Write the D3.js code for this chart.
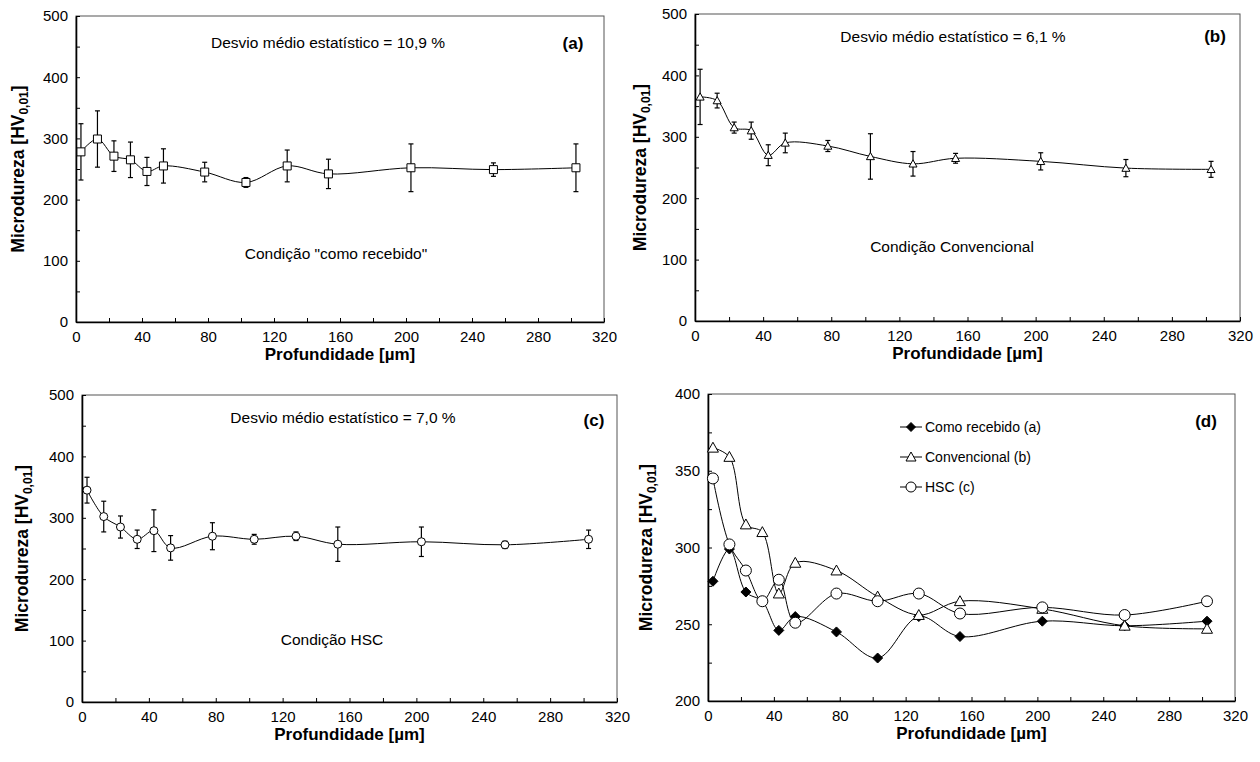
<!DOCTYPE html>
<html>
<head>
<meta charset="utf-8">
<script src="https://cdn.jsdelivr.net/npm/d3@7"></script>
<style>
  body { margin: 0; background: #fff; }
  text { font-family: Arial, "Liberation Sans", sans-serif; fill: #000; }
</style>
</head>
<body>
<svg id="chart" width="1260" height="762"></svg>
<script>
// depth of each indentation [µm]
const depth = [3, 13, 23, 33, 43, 53, 78, 103, 128, 153, 203, 253, 303];

// (a) como recebido
const hvRecebido  = [278, 299, 271, 265, 246, 255, 245, 228, 255, 242, 252, 249, 252];
const errRecebido = [46, 46, 25, 29, 23, 28, 16, 8, 26, 24, 39, 11, 39];

// (b) convencional
const hvConvencional  = [365, 359, 315, 310, 270, 290, 285, 268, 256, 265, 260, 249, 247];
const errConvencional = [45, 12, 9, 14, 17, 16, 9, 37, 20, 8, 14, 14, 13];

// (c) HSC
const hvHSC  = [345, 302, 285, 265, 279, 251, 270, 265, 270, 257, 261, 256, 265];
const errHSC = [21, 25, 18, 15, 34, 20, 22, 8, 7, 28, 24, 6, 15];

const xTickLabels = [0, 40, 80, 120, 160, 200, 240, 280, 320];
const yTickLabelsABC = [0, 100, 200, 300, 400, 500];
const yTickLabelsD = [200, 250, 300, 350, 400];

const legendLabels = ["Como recebido (a)", "Convencional (b)", "HSC (c)"];

const svg = d3.select("#chart");

function markerPath(shape, s) {
  let h = s / 2;
  if (shape == "square") return `M${-h},${-h}H${h}V${h}H${-h}Z`;
  if (shape == "diamond") return `M0,${-h}L${h},0L0,${h}L${-h},0Z`;
  if (shape == "triangle") return `M0,${-h}L${h},${h * 0.8}L${-h},${h * 0.8}Z`;
  // circle
  return `M${h},0A${h},${h} 0 1,1 ${-h},0A${h},${h} 0 1,1 ${h},0Z`;
}

function drawPanel(cfg) {
  let yt = cfg.yLabels;
  let x = d3.scaleLinear().domain([0, 320]).range([cfg.x0, cfg.x1]),
      y = d3.scaleLinear().domain([yt[0], yt.at(-1)]).range([cfg.y1, cfg.y0]);
  let g = svg.append("g");

  // plot area border (grey, top/right visible)
  g.append("rect")
    .attr("x", cfg.x0).attr("y", cfg.y0)
    .attr("width", cfg.x1 - cfg.x0).attr("height", cfg.y1 - cfg.y0)
    .attr("fill", "none").attr("stroke", "#555").attr("stroke-width", 1);

  let step = yt[1] - yt[0];
  let yMinor = d3.range(yt[0], yt.at(-1) + 1, step / 2);

  let xAxis = d3.axisBottom(x)
    .tickValues(d3.range(0, 321, 20))
    .tickSize(-4).tickSizeOuter(0).tickPadding(9)
    .tickFormat(d => xTickLabels.includes(d) ? d : "");
  g.append("g")
    .attr("transform", "translate(0," + cfg.y1 + ")")
    .call(xAxis)
    .call(a => a.select(".domain").attr("stroke-width", 1.6))
    .call(a => a.selectAll("text").attr("font-size", 15).attr("font-family", "Arial, 'Liberation Sans', sans-serif"));

  let yAxis = d3.axisLeft(y)
    .tickValues(yMinor)
    .tickSize(-4).tickSizeOuter(0).tickPadding(8)
    .tickFormat(d => yt.includes(d) ? d : "");
  g.append("g")
    .attr("transform", "translate(" + cfg.x0 + ",0)")
    .call(yAxis)
    .call(a => a.select(".domain").attr("stroke-width", 1.6))
    .call(a => a.selectAll("text").attr("font-size", 15).attr("font-family", "Arial, 'Liberation Sans', sans-serif"));

  // axis titles
  g.append("text")
    .attr("x", (cfg.x0 + cfg.x1) / 2).attr("y", cfg.y1 + 38)
    .attr("text-anchor", "middle").attr("font-size", 17).attr("font-weight", "bold")
    .text("Profundidade [µm]");

  let ytitle = g.append("text")
    .attr("transform", "translate(" + cfg.ytx + "," + (cfg.y0 + cfg.y1) / 2 + ")rotate(-90)")
    .attr("text-anchor", "middle").attr("font-size", 17.5).attr("font-weight", "bold");
  ytitle.append("tspan").text("Microdureza [HV");
  ytitle.append("tspan").attr("font-size", 12).attr("dy", 4).text("0,01");
  ytitle.append("tspan").attr("dy", -4).text("]");

  let line = d3.line()
    .x(d => x(d.x)).y(d => y(d.v))
    .curve(d3.curveCatmullRom.alpha(0.5));

  cfg.series.forEach(function(s) {
    let pts = depth.map((d, i) => ({x: d, v: s.values[i], e: s.errors ? s.errors[i] : 0}));
    g.append("path")
      .datum(pts)
      .attr("d", line)
      .attr("fill", "none").attr("stroke", "#000").attr("stroke-width", 1);

    if (s.errors) {
      let eb = g.selectAll(null).data(pts).join("g");
      eb.append("line")
        .attr("x1", d => x(d.x)).attr("x2", d => x(d.x))
        .attr("y1", d => y(d.v - d.e)).attr("y2", d => y(d.v + d.e))
        .attr("stroke", "#000").attr("stroke-width", 1.2);
      [-1, 1].forEach(function(sign) {
        eb.append("line")
          .attr("x1", d => x(d.x) - 2.5).attr("x2", d => x(d.x) + 2.5)
          .attr("y1", d => y(d.v + sign * d.e)).attr("y2", d => y(d.v + sign * d.e))
          .attr("stroke", "#000").attr("stroke-width", 1.2);
      });
    }

    g.selectAll(null).data(pts).join("path")
      .attr("transform", d => "translate(" + x(d.x) + "," + y(d.v) + ")")
      .attr("d", markerPath(s.shape, s.size))
      .attr("fill", s.fill).attr("stroke", "#000").attr("stroke-width", 1);
  });

  (cfg.notes || []).forEach(function(n) {
    g.append("text")
      .attr("x", n.x).attr("y", n.y)
      .attr("text-anchor", "middle")
      .attr("font-size", n.size || 15.5)
      .attr("font-weight", n.bold ? "bold" : "normal")
      .text(n.text);
  });

  return {g: g, x: x, y: y};
}

drawPanel({
  x0: 76, x1: 604, y0: 16, y1: 322, ytx: 24, yLabels: yTickLabelsABC,
  series: [{values: hvRecebido, errors: errRecebido, shape: "square", size: 8, fill: "#fff"}],
  notes: [
    {text: "Desvio médio estatístico = 10,9 %", x: 328, y: 48},
    {text: "(a)", x: 573, y: 49, bold: true, size: 17},
    {text: "Condição \"como recebido\"", x: 336, y: 259}
  ]
});

drawPanel({
  x0: 695, x1: 1240, y0: 14, y1: 321, ytx: 646, yLabels: yTickLabelsABC,
  series: [{values: hvConvencional, errors: errConvencional, shape: "triangle", size: 8, fill: "#fff"}],
  notes: [
    {text: "Desvio médio estatístico = 6,1 %", x: 953, y: 42},
    {text: "(b)", x: 1215, y: 42, bold: true, size: 17},
    {text: "Condição Convencional", x: 952, y: 252}
  ]
});

drawPanel({
  x0: 82, x1: 617, y0: 395, y1: 702, ytx: 28, yLabels: yTickLabelsABC,
  series: [{values: hvHSC, errors: errHSC, shape: "circle", size: 8, fill: "#fff"}],
  notes: [
    {text: "Desvio médio estatístico = 7,0 %", x: 343, y: 423},
    {text: "(c)", x: 594, y: 426, bold: true, size: 17},
    {text: "Condição HSC", x: 332, y: 645}
  ]
});

let pd = drawPanel({
  x0: 708, x1: 1235, y0: 394, y1: 701, ytx: 652, yLabels: yTickLabelsD,
  series: [
    {values: hvRecebido, shape: "diamond", size: 10, fill: "#000"},
    {values: hvConvencional, shape: "triangle", size: 11, fill: "#fff"},
    {values: hvHSC, shape: "circle", size: 11, fill: "#fff"}
  ],
  notes: [
    {text: "(d)", x: 1206, y: 427, bold: true, size: 17}
  ]
});

// legend of panel (d)
let legendShapes = [["diamond", "#000", 9], ["triangle", "#fff", 10], ["circle", "#fff", 10]];
let leg = pd.g.selectAll(".leg").data(legendLabels).join("g")
  .attr("class", "leg")
  .attr("transform", (d, i) => "translate(900," + (427 + i * 30) + ")");
leg.append("line").attr("x1", 0).attr("x2", 22).attr("stroke", "#000");
leg.append("path")
  .attr("transform", "translate(11,0)")
  .attr("d", (d, i) => markerPath(legendShapes[i][0], legendShapes[i][2]))
  .attr("fill", (d, i) => legendShapes[i][1]).attr("stroke", "#000");
leg.append("text")
  .attr("x", 25).attr("dy", "0.35em")
  .attr("font-size", 14)
  .text(d => d);
</script>
</body>
</html>
